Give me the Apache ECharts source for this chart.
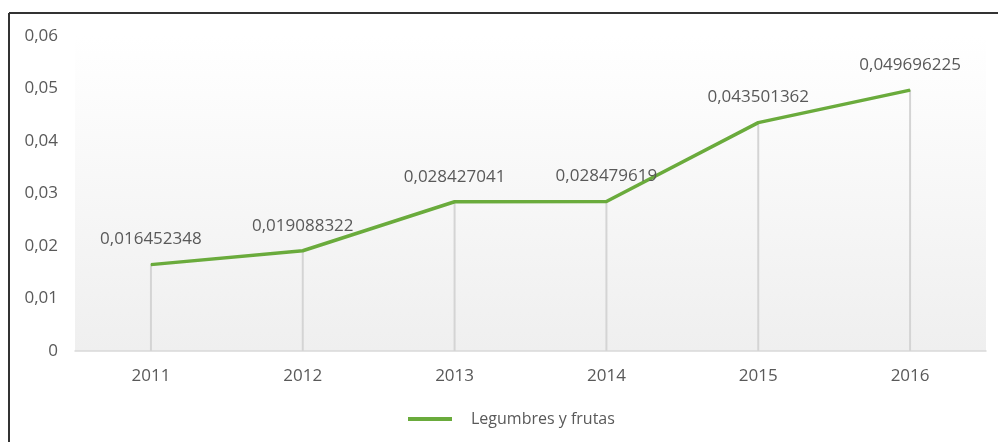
<!DOCTYPE html>
<html>
<head>
<meta charset="utf-8">
<script src="https://cdn.jsdelivr.net/npm/echarts@6/dist/echarts.min.js"></script>
<style>
  html, body { margin: 0; padding: 0; background: #fff; }
  #main { width: 998px; height: 442px; }
</style>
</head>
<body>
<div id="main"></div>
<script>
// datos del grafico
var years = ['2011', '2012', '2013', '2014', '2015', '2016'];
var valores = [0.016452348, 0.019088322, 0.028427041, 0.028479619, 0.043501362, 0.049696225];
var serieNombre = 'Legumbres y frutas';

var coma = function (v) { return String(v).replace('.', ','); };

var myChart = echarts.init(document.getElementById('main'));
var option = {
  backgroundColor: '#fff',
  textStyle: { fontFamily: 'Open Sans' },
  graphic: [
    { type: 'line', shape: { x1: 9, y1: 13, x2: 998, y2: 13 }, style: { stroke: '#333', lineWidth: 2 } },
    { type: 'line', shape: { x1: 9, y1: 13, x2: 9, y2: 442 }, style: { stroke: '#333', lineWidth: 2 } }
  ],
  grid: {
    left: 75, right: 12, top: 36, bottom: 91,
    show: true, borderWidth: 0,
    backgroundColor: new echarts.graphic.LinearGradient(0, 0, 0, 1, [
      { offset: 0, color: '#ffffff' },
      { offset: 1, color: '#efefef' }
    ])
  },
  legend: {
    bottom: 10, left: 403,
    data: [{ name: serieNombre, icon: 'rect' }],
    itemWidth: 44, itemHeight: 4, itemGap: 10,
    textStyle: { color: '#595959', fontSize: 16, fontFamily: 'Open Sans', padding: [0, 0, 0, 14] }
  },
  xAxis: {
    type: 'category',
    data: years,
    boundaryGap: true,
    axisLine: { lineStyle: { color: '#d9d9d9', width: 1.5 } },
    axisTick: { show: false },
    axisLabel: { color: '#595959', fontSize: 17, margin: 17 }
  },
  yAxis: {
    type: 'value',
    min: 0, max: 0.06, interval: 0.01,
    axisLine: { show: false },
    axisTick: { show: false },
    splitLine: { show: false },
    axisLabel: {
      color: '#595959', fontSize: 17, margin: 17,
      formatter: function (v) { return v === 0 ? '0' : coma(v.toFixed(2)); }
    }
  },
  series: [
    {
      // lineas verticales hasta el eje
      name: 'drop',
      type: 'bar',
      data: valores,
      barWidth: 2,
      itemStyle: { color: '#d4d4d4' },
      silent: true,
      z: 1
    },
    {
      name: serieNombre,
      type: 'line',
      data: valores,
      symbol: 'circle',
      symbolSize: 1,
      showSymbol: true,
      lineStyle: { color: '#6aab3c', width: 3.5 },
      itemStyle: { color: '#6aab3c' },
      label: {
        show: true, position: 'top', distance: 16,
        color: '#595959', fontSize: 17,
        formatter: function (p) { return coma(p.value); }
      },
      labelLayout: { hideOverlap: false },
      z: 3
    }
  ]
};
myChart.setOption(option);
</script>
</body>
</html>
